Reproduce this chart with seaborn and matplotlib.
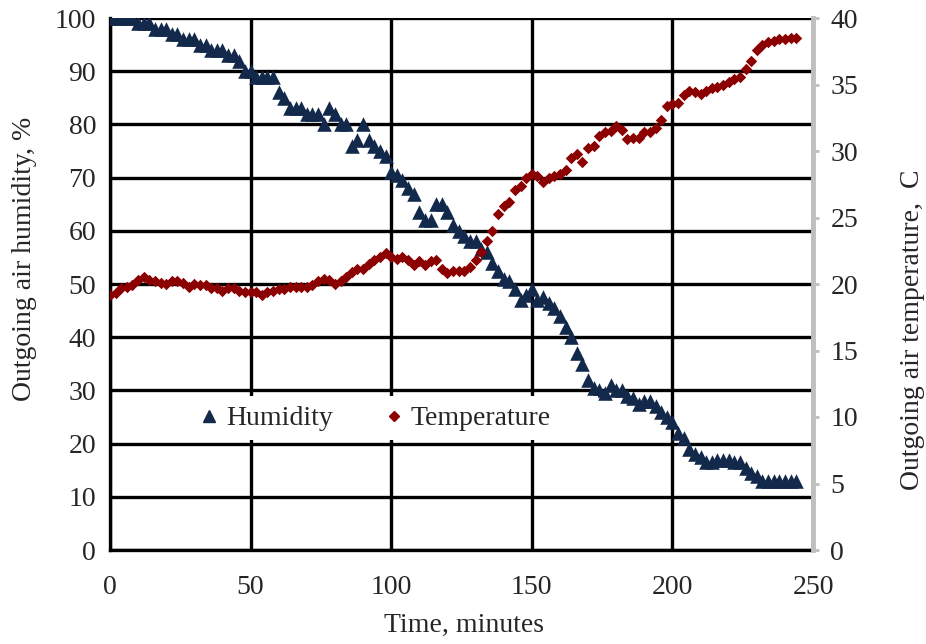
import numpy as np
import pandas as pd
import seaborn as sns
import matplotlib.pyplot as plt
from matplotlib.lines import Line2D
from matplotlib.patches import Rectangle

# readings every 2 minutes, 0..244
time_min = list(range(0, 246, 2))

humidity = [100, 100, 100, 100, 100, 99, 99, 99, 98, 98, 98, 97, 97,
            96, 96, 96, 95, 95, 94, 94, 94, 93, 93, 92, 90, 90,
            89, 89, 89, 89, 86, 85, 83, 83, 83, 82, 82, 82,
            80, 83, 82, 80, 80, 76, 77, 80, 77, 76, 75, 74,
            71, 70.5, 69.5, 68, 67, 63.5, 62, 62, 65, 65,
            63.5, 61, 60, 59, 58, 58, 56.5, 56, 54, 52.5,
            51, 50.5, 49, 47, 48, 49, 47, 47.5, 46.5, 45.5,
            44, 42, 40, 37, 35, 32, 30.5, 30, 29.5, 31,
            30, 30, 29, 28.5, 27.5, 28, 28, 27, 26, 25,
            24, 22, 21, 19, 18, 17.5, 16.5, 16.5, 17, 17,
            17, 16.5, 16.5, 15.5, 14.5, 14, 13, 13, 13, 13, 13, 13, 13]

temperature = [19.2, 19.3, 19.7, 19.8, 19.9, 20.3, 20.5, 20.3, 20.2, 20.1,
               20.0, 20.2, 20.2, 20.1, 19.8, 20.0, 19.9, 19.9, 19.7, 19.7,
               19.5, 19.7, 19.7, 19.5, 19.4, 19.4, 19.4, 19.2, 19.4, 19.5,
               19.6, 19.6, 19.8, 19.8, 19.8, 19.8, 19.9, 20.2, 20.4, 20.3,
               20.0, 20.2, 20.5, 20.9, 21.1, 21.1, 21.5, 21.8, 22.0, 22.3,
               22.0, 21.9, 22.0, 21.8, 21.4, 21.7, 21.4, 21.7, 21.8, 21.1,
               20.8, 21.0, 21.0, 21.0, 21.3, 21.8, 22.4, 23.2, 24.0, 25.3,
               25.9, 26.2, 27.1, 27.4, 28.0, 28.3, 28.1, 27.7, 28.0, 28.1,
               28.3, 28.6, 29.5, 29.8, 29.2, 30.2, 30.4, 31.1, 31.4, 31.5,
               31.9, 31.6, 30.9, 31.0, 31.0, 31.4, 31.4, 31.7, 32.3, 33.4,
               33.5, 33.6, 34.2, 34.5, 34.4, 34.3, 34.5, 34.7, 34.8, 35.0,
               35.2, 35.4, 35.6, 36.2, 36.8, 37.6, 38.0, 38.2, 38.3, 38.4,
               38.4, 38.5, 38.5]

x_ticks = [0, 50, 100, 150, 200, 250]
hum_ticks = list(range(0, 101, 10))
temp_ticks = list(range(0, 41, 5))

HUM_COLOR = "#13294b"
TEMP_COLOR = "#8b0000"
GREY = "#bfbfbf"

df = pd.DataFrame({"time": time_min, "humidity": humidity, "temperature": temperature})

sns.set_style("white")
plt.rcParams["font.family"] = ["Liberation Serif", "DejaVu Serif"]
plt.rcParams["font.size"] = 20

fig = plt.figure(figsize=(9.26, 6.44), dpi=100)
ax = fig.add_axes([110 / 926, 1 - 550 / 644, 703 / 926, 532 / 644])

sns.scatterplot(data=df, x="time", y="humidity", ax=ax, marker="^", s=110,
                color=HUM_COLOR, linewidth=0, zorder=3, legend=False)
ax.set_xlim(0, 250)
ax.set_ylim(0, 100)
ax.set_xticks(x_ticks)
ax.set_yticks(hum_ticks)
ax.grid(True, color="black", linewidth=2.4, zorder=0)
ax.set_axisbelow(True)
for s in ["top", "right"]:
    ax.spines[s].set_visible(False)
for s in ["left", "bottom"]:
    ax.spines[s].set_color("black")
    ax.spines[s].set_linewidth(2.4)
ax.tick_params(axis="x", length=0, pad=18, labelsize=20)
ax.tick_params(axis="y", length=0, pad=10, labelsize=20)
ax.set_xlabel("Time, minutes", fontsize=20)
ax.set_ylabel("Outgoing air humidity, %", fontsize=20)
ax.xaxis.set_label_coords(0.503, -0.141)
ax.xaxis.label.set_va("center")
ax.yaxis.set_label_coords(-0.121, 0.547)
ax.yaxis.label.set_va("center")

ax2 = ax.twinx()
sns.scatterplot(data=df, x="time", y="temperature", ax=ax2, marker="D", s=34,
                color=TEMP_COLOR, linewidth=0, zorder=3, legend=False)
ax2.set_ylim(0, 40)
ax2.set_yticks(temp_ticks)
ax2.grid(False)
for s in ["top", "left", "bottom"]:
    ax2.spines[s].set_visible(False)
ax2.spines["right"].set_color(GREY)
ax2.spines["right"].set_linewidth(3.5)
ax2.tick_params(axis="y", length=4.5, width=2, color=GREY, pad=8, labelsize=20)
ax2.set_ylabel("Outgoing air temperature,  C", fontsize=20)
ax2.yaxis.set_label_coords(1.141, 0.414)
ax2.yaxis.label.set_va("center")

# white legend area over the gridlines
ax2.add_patch(Rectangle((0.004, 0.207), 0.69, 0.083, transform=ax2.transAxes,
                        facecolor="white", edgecolor="none", zorder=2))
handles = [Line2D([], [], marker="^", linestyle="none", color=HUM_COLOR, markersize=9),
           Line2D([], [], marker="D", linestyle="none", color=TEMP_COLOR, markersize=5)]
leg = ax2.legend(handles, ["Humidity", "Temperature"], ncol=2, loc="center",
                 bbox_to_anchor=(0.378, 0.247), frameon=False, fontsize=20,
                 handlelength=0.6, handletextpad=0.3, columnspacing=1.9)
leg.set_zorder(4)

fig.savefig("out.png", dpi=100)
